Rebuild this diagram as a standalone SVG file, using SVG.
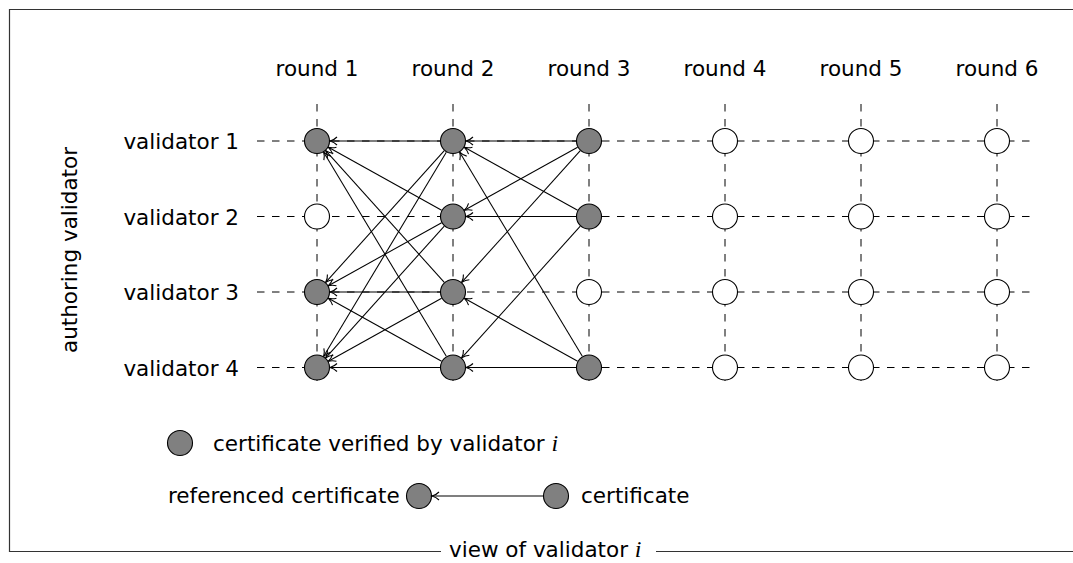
<svg xmlns="http://www.w3.org/2000/svg" width="1073" height="563" viewBox="0 0 1073 563">
<style>
text{font-family:"DejaVu Sans",sans-serif;font-size:21.5px;fill:#000}
.m{font-family:"Liberation Serif",serif;font-style:italic;font-size:24px}
.g{stroke:#000;stroke-width:1;stroke-dasharray:7.5 7.5;fill:none}
.f{fill:#808080;stroke:#000;stroke-width:1.1}
.e{fill:#fff;stroke:#000;stroke-width:1.1}
.a{stroke:#000;stroke-width:1.05;fill:none;marker-end:url(#tip)}
</style>
<defs>
<marker id="tip" markerUnits="userSpaceOnUse" viewBox="-9 -6 11 12" refX="0" refY="0" markerWidth="11" markerHeight="12" orient="auto">
<path d="M-7,-4 C-5,-1.9 -1.8,-0.5 0,0 C-1.8,0.5 -5,1.9 -7,4" fill="none" stroke="#000" stroke-width="1.1"/>
</marker>
</defs>
<path d="M1073 9.5 H9.5 V551.5 H441 M656 551.5 H1073" fill="none" stroke="#333" stroke-width="1.2"/>
<text x="449" y="557">view of validator <tspan class="m">i</tspan></text>
<g id="labels">
<text x="317" y="76" text-anchor="middle">round 1</text>
<text x="453" y="76" text-anchor="middle">round 2</text>
<text x="589" y="76" text-anchor="middle">round 3</text>
<text x="725" y="76" text-anchor="middle">round 4</text>
<text x="861" y="76" text-anchor="middle">round 5</text>
<text x="997" y="76" text-anchor="middle">round 6</text>
<text x="239" y="149" text-anchor="end">validator 1</text>
<text x="239" y="224.5" text-anchor="end">validator 2</text>
<text x="239" y="300" text-anchor="end">validator 3</text>
<text x="239" y="375.5" text-anchor="end">validator 4</text>
<text transform="translate(77 250) rotate(-90)" text-anchor="middle">authoring validator</text>
</g>
<g id="grid">
<path class="g" d="M257 141H1030M257 216.5H1030M257 292H1030M257 367.5H1030"/>
<path class="g" d="M317 104V381M453 104V381M589 104V381M725 104V381M861 104V381M997 104V381"/>
</g>
<g id="connectors">
<path class="a" d="M440 141L330 141"/>
<path class="a" d="M444.3 150.66L325.7 282.34"/>
<path class="a" d="M446.31 152.15L323.69 356.35"/>
<path class="a" d="M441.63 210.19L328.37 147.31"/>
<path class="a" d="M441.63 222.81L328.37 285.69"/>
<path class="a" d="M444.3 226.16L325.7 357.84"/>
<path class="a" d="M444.3 282.34L325.7 150.66"/>
<path class="a" d="M440 292L330 292"/>
<path class="a" d="M441.63 298.31L328.37 361.19"/>
<path class="a" d="M446.31 356.35L323.69 152.15"/>
<path class="a" d="M441.63 361.19L328.37 298.31"/>
<path class="a" d="M440 367.5L330 367.5"/>
<path class="a" d="M576 141L466 141"/>
<path class="a" d="M577.63 147.31L464.37 210.19"/>
<path class="a" d="M580.3 150.66L461.7 282.34"/>
<path class="a" d="M577.63 210.19L464.37 147.31"/>
<path class="a" d="M576 216.5L466 216.5"/>
<path class="a" d="M580.3 226.16L461.7 357.84"/>
<path class="a" d="M582.31 356.35L459.69 152.15"/>
<path class="a" d="M577.63 361.19L464.37 298.31"/>
<path class="a" d="M576 367.5L466 367.5"/>
</g>
<g id="r1v1"><circle class="f" cx="317" cy="141" r="12.5"/></g>
<g id="r1v2"><circle class="e" cx="317" cy="216.5" r="12.5"/></g>
<g id="r1v3"><circle class="f" cx="317" cy="292" r="12.5"/></g>
<g id="r1v4"><circle class="f" cx="317" cy="367.5" r="12.5"/></g>
<g id="r2v1"><circle class="f" cx="453" cy="141" r="12.5"/></g>
<g id="r2v2"><circle class="f" cx="453" cy="216.5" r="12.5"/></g>
<g id="r2v3"><circle class="f" cx="453" cy="292" r="12.5"/></g>
<g id="r2v4"><circle class="f" cx="453" cy="367.5" r="12.5"/></g>
<g id="r3v1"><circle class="f" cx="589" cy="141" r="12.5"/></g>
<g id="r3v2"><circle class="f" cx="589" cy="216.5" r="12.5"/></g>
<g id="r3v3"><circle class="e" cx="589" cy="292" r="12.5"/></g>
<g id="r3v4"><circle class="f" cx="589" cy="367.5" r="12.5"/></g>
<g id="r4"><circle class="e" cx="725" cy="141" r="12.5"/><circle class="e" cx="725" cy="216.5" r="12.5"/><circle class="e" cx="725" cy="292" r="12.5"/><circle class="e" cx="725" cy="367.5" r="12.5"/></g>
<g id="r5"><circle class="e" cx="861" cy="141" r="12.5"/><circle class="e" cx="861" cy="216.5" r="12.5"/><circle class="e" cx="861" cy="292" r="12.5"/><circle class="e" cx="861" cy="367.5" r="12.5"/></g>
<g id="r6"><circle class="e" cx="997" cy="141" r="12.5"/><circle class="e" cx="997" cy="216.5" r="12.5"/><circle class="e" cx="997" cy="292" r="12.5"/><circle class="e" cx="997" cy="367.5" r="12.5"/></g>
<g id="legend">
<circle class="f" cx="180" cy="443" r="12.5"/>
<text x="213" y="450.5">certificate verified by validator <tspan class="m">i</tspan></text>
<text x="168" y="503">referenced certificate</text>
<circle class="f" cx="419" cy="496" r="12.5"/>
<path class="a" d="M543 496L432 496"/>
<circle class="f" cx="556" cy="496" r="12.5"/>
<text x="581" y="503">certificate</text>
</g>
</svg>
